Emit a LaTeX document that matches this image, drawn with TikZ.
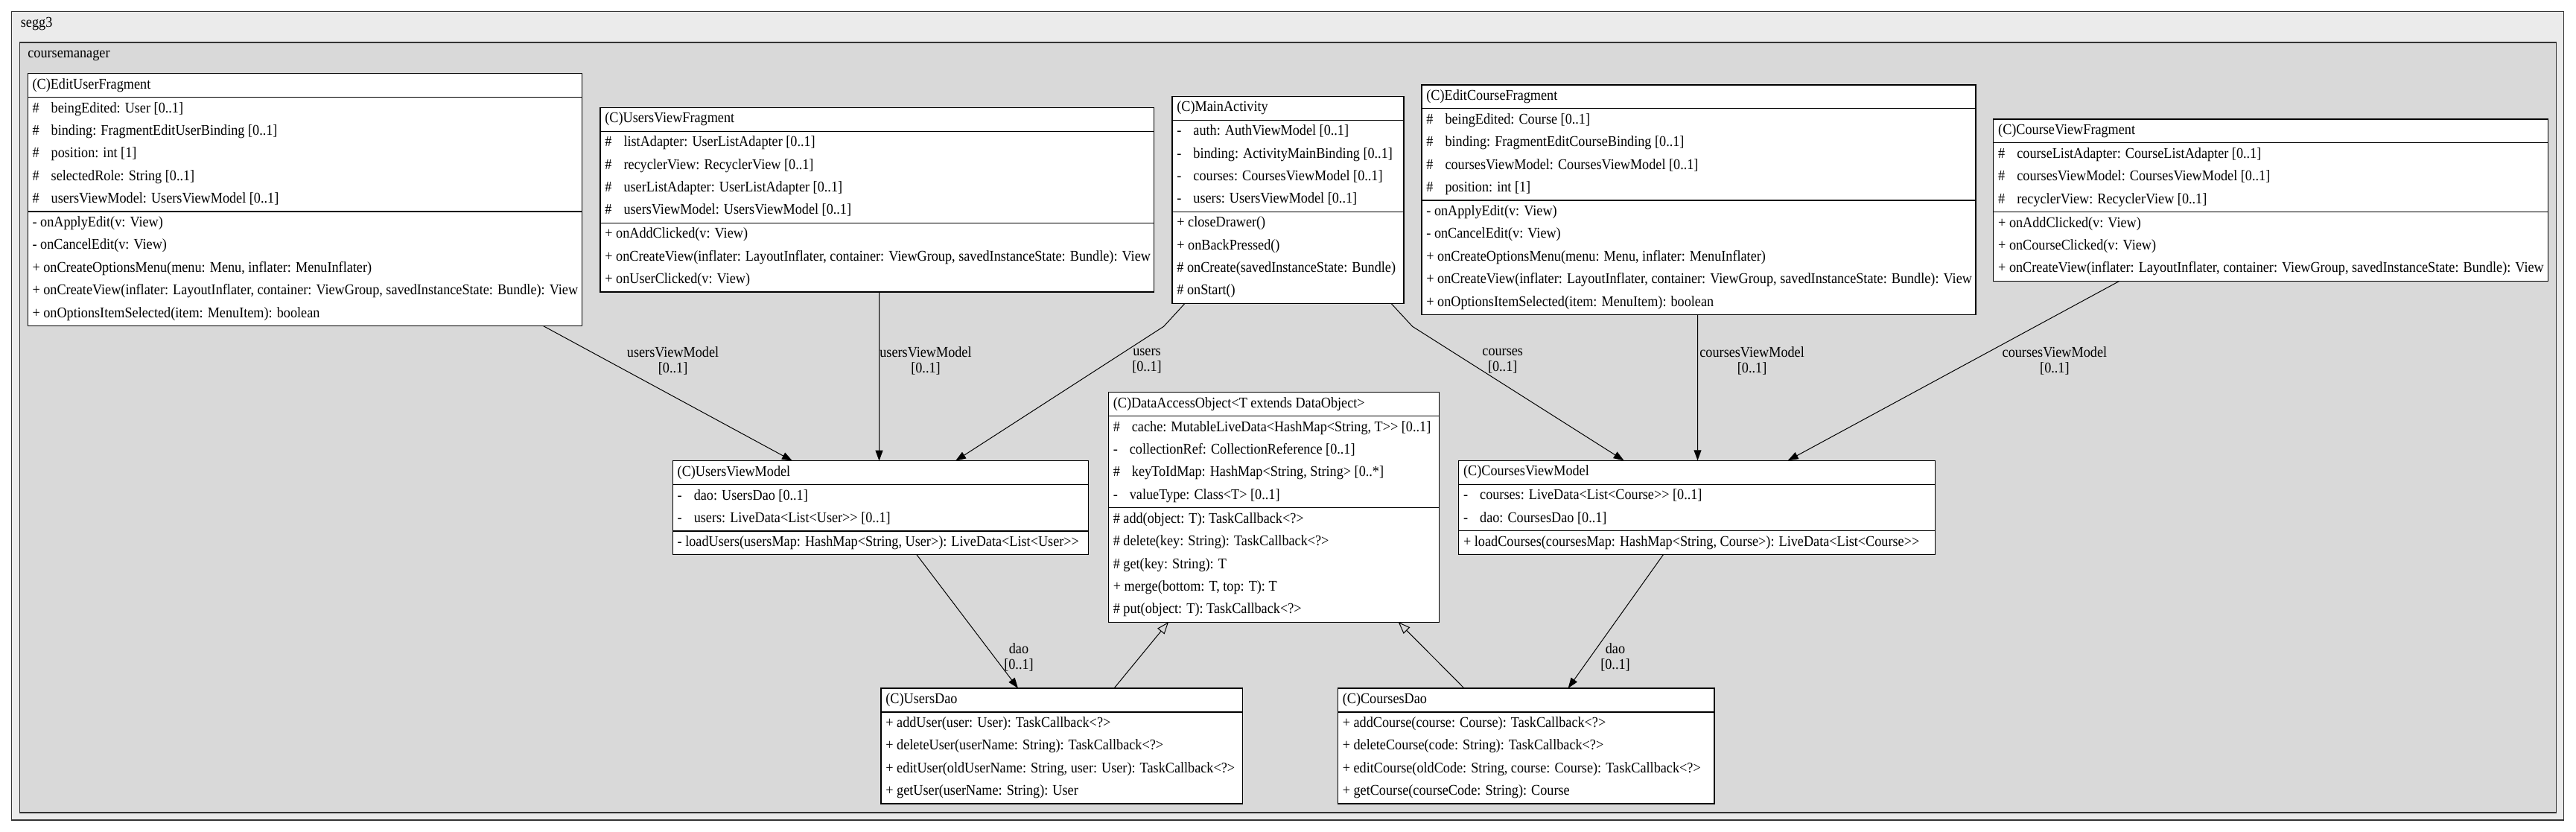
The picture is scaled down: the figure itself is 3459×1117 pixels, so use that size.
\documentclass[tikz,border=0pt]{standalone}
\usepackage{fontspec}
\setmainfont{Liberation Serif}[FakeStretch=0.91]
\usetikzlibrary{arrows.meta,calc}
\definecolor{segfill}{HTML}{EBEBEB}
\definecolor{cmfill}{HTML}{D9D9D9}
\definecolor{framecol}{HTML}{333333}
\tikzset{
  rowtext/.style={anchor=west, inner sep=0pt, font=\fontsize{10}{12}\selectfont, text height=7pt, text depth=2pt},
  classbox/.style={draw=black, fill=white, line width=0.6pt, inner sep=0pt, outer sep=0pt, anchor=north west},
  sepline/.style={draw=black, line width=0.6pt},
  assoc/.style={draw=black, line width=0.5pt, -{Triangle[length=7pt,width=5pt]}},
  gen/.style={draw=black, line width=0.5pt, -{Triangle[open,length=8pt,width=6pt]}},
  elabel/.style={align=center, inner sep=0pt, font=\fontsize{10}{10.5}\selectfont},
  frametitle/.style={anchor=west, inner sep=0pt, font=\fontsize{10}{12}\selectfont, text height=7pt, text depth=2pt},
  framebox/.style={draw=framecol, line width=0.8pt},
}
\newcommand\vis[1]{#1\hspace{8pt}}
% #1 name, #2 x, #3 y top, #4 width, #5 title, #6 n attrs, #7 attrs, #8 n methods, #9 methods
\newcommand\umlclass[9]{%
  \pgfmathsetmacro\ya{#3+31.9}%
  \pgfmathsetmacro\yb{#6>0 ? \ya+#6*30.4+1.5 : \ya}%
  \pgfmathsetmacro\yc{\yb+#8*30.4+1.5}%
  \node[classbox, minimum width=#4*0.5pt, minimum height=(\yc-#3)*0.5pt] (#1) at (#2,#3) {};
  \draw[sepline] (#2,\ya) -- ++(#4,0);
  \ifnum#6>0 \draw[sepline] (#2,\yb) -- ++(#4,0);\fi
  \node[rowtext] at ({#2+6},{#3+15.5}) {#5};
  \ifnum#6>0
    \foreach \rowtxt [count=\i from 0] in {#7} {\node[rowtext] at ({#2+6},{\ya+15.5+30.4*\i}) {\rowtxt};}
  \fi
  \foreach \rowtxt [count=\i from 0] in {#9} {\node[rowtext] at ({#2+6},{\yb+15.5+30.4*\i}) {\rowtxt};}
}
\begin{document}
\begin{tikzpicture}[x=0.5pt,y=-0.5pt]
\useasboundingbox (0,0) rectangle (3459,1117);
\fill[white] (0,0) rectangle (3459,1117);
\draw[framebox, fill=segfill] (15.5,15.5) rectangle (3442.5,1101);
\node[frametitle] (segg3) at (27.5,31.7) {segg3};
\draw[framebox, fill=cmfill] (26.5,57.3) rectangle (3432.5,1091);
\node[frametitle] (cm) at (37,72.5) {coursemanager};

\umlclass{euf}{37.2}{98.7}{744.4}{(C)EditUserFragment}{5}{%
  {\vis{\#}beingEdited: User [0..1]},
  {\vis{\#}binding: FragmentEditUserBinding [0..1]},
  {\vis{\#}position: int [1]},
  {\vis{\#}selectedRole: String [0..1]},
  {\vis{\#}usersViewModel: UsersViewModel [0..1]}}{5}{%
  {- onApplyEdit(v: View)},
  {- onCancelEdit(v: View)},
  {+ onCreateOptionsMenu(menu: Menu, inflater: MenuInflater)},
  {+ onCreateView(inflater: LayoutInflater, container: ViewGroup, savedInstanceState: Bundle): View},
  {+ onOptionsItemSelected(item: MenuItem): boolean}}

\umlclass{uvf}{806}{144.3}{743.5}{(C)UsersViewFragment}{4}{%
  {\vis{\#}listAdapter: UserListAdapter [0..1]},
  {\vis{\#}recyclerView: RecyclerView [0..1]},
  {\vis{\#}userListAdapter: UserListAdapter [0..1]},
  {\vis{\#}usersViewModel: UsersViewModel [0..1]}}{3}{%
  {+ onAddClicked(v: View)},
  {+ onCreateView(inflater: LayoutInflater, container: ViewGroup, savedInstanceState: Bundle): View},
  {+ onUserClicked(v: View)}}

\umlclass{ma}{1574}{129.3}{311}{(C)MainActivity}{4}{%
  {\vis{-}auth: AuthViewModel [0..1]},
  {\vis{-}binding: ActivityMainBinding [0..1]},
  {\vis{-}courses: CoursesViewModel [0..1]},
  {\vis{-}users: UsersViewModel [0..1]}}{4}{%
  {+ closeDrawer()},
  {+ onBackPressed()},
  {\# onCreate(savedInstanceState: Bundle)},
  {\# onStart()}}

\umlclass{ecf}{1909}{114}{744}{(C)EditCourseFragment}{4}{%
  {\vis{\#}beingEdited: Course [0..1]},
  {\vis{\#}binding: FragmentEditCourseBinding [0..1]},
  {\vis{\#}coursesViewModel: CoursesViewModel [0..1]},
  {\vis{\#}position: int [1]}}{5}{%
  {- onApplyEdit(v: View)},
  {- onCancelEdit(v: View)},
  {+ onCreateOptionsMenu(menu: Menu, inflater: MenuInflater)},
  {+ onCreateView(inflater: LayoutInflater, container: ViewGroup, savedInstanceState: Bundle): View},
  {+ onOptionsItemSelected(item: MenuItem): boolean}}

\umlclass{cvf}{2676.8}{160}{744.6}{(C)CourseViewFragment}{3}{%
  {\vis{\#}courseListAdapter: CourseListAdapter [0..1]},
  {\vis{\#}coursesViewModel: CoursesViewModel [0..1]},
  {\vis{\#}recyclerView: RecyclerView [0..1]}}{3}{%
  {+ onAddClicked(v: View)},
  {+ onCourseClicked(v: View)},
  {+ onCreateView(inflater: LayoutInflater, container: ViewGroup, savedInstanceState: Bundle): View}}

\umlclass{uvm}{903.3}{618.7}{558.4}{(C)UsersViewModel}{2}{%
  {\vis{-}dao: UsersDao [0..1]},
  {\vis{-}users: LiveData<List<User>{}> [0..1]}}{1}{%
  {- loadUsers(usersMap: HashMap<String, User>): LiveData<List<User>{}>}}

\umlclass{dao}{1488.4}{526.7}{444}{(C)DataAccessObject<T extends DataObject>}{4}{%
  {\vis{\#}cache: MutableLiveData<HashMap<String, T>{}> [0..1]},
  {\vis{-}collectionRef: CollectionReference [0..1]},
  {\vis{\#}keyToIdMap: HashMap<String, String> [0..*]},
  {\vis{-}valueType: Class<T> [0..1]}}{5}{%
  {\# add(object: T): TaskCallback<?>},
  {\# delete(key: String): TaskCallback<?>},
  {\# get(key: String): T},
  {+ merge(bottom: T, top: T): T},
  {\# put(object: T): TaskCallback<?>}}

\umlclass{cvm}{1958.7}{618.3}{639.7}{(C)CoursesViewModel}{2}{%
  {\vis{-}courses: LiveData<List<Course>{}> [0..1]},
  {\vis{-}dao: CoursesDao [0..1]}}{1}{%
  {+ loadCourses(coursesMap: HashMap<String, Course>): LiveData<List<Course>{}>}}

\umlclass{udao}{1183}{924}{485.7}{(C)UsersDao}{0}{}{4}{%
  {+ addUser(user: User): TaskCallback<?>},
  {+ deleteUser(userName: String): TaskCallback<?>},
  {+ editUser(oldUserName: String, user: User): TaskCallback<?>},
  {+ getUser(userName: String): User}}

\umlclass{cdao}{1796.4}{924}{505.6}{(C)CoursesDao}{0}{}{4}{%
  {+ addCourse(course: Course): TaskCallback<?>},
  {+ deleteCourse(code: String): TaskCallback<?>},
  {+ editCourse(oldCode: String, course: Course): TaskCallback<?>},
  {+ getCourse(courseCode: String): Course}}

% associations
\draw[assoc] ($(euf.south west)+(692.3,0)$) -- ($(uvm.north west)+(160.7,0)$);
\draw[assoc] ($(uvf.south west)+(374.5,0)$) -- ($(uvm.north west)+(277.2,0)$);
\draw[assoc] ($(ma.south west)+(17,0)$) -- ++(-28.4,30.9) -- ($(uvm.north west)+(379.7,0)$);
\draw[assoc] ($(ma.south west)+(294,0)$) -- ++(28.6,30.9) -- ($(cvm.north west)+(221.9,0)$);
\draw[assoc] ($(ecf.south west)+(370.5,0)$) -- ($(cvm.north west)+(320.8,0)$);
\draw[assoc] ($(cvf.south west)+(169.2,0)$) -- ($(cvm.north west)+(442,0)$);
\draw[assoc] ($(uvm.south west)+(327.7,0)$) -- ($(udao.north west)+(184,0)$);
\draw[assoc] ($(cvm.south west)+(274.9,0)$) -- ($(cdao.north west)+(309.2,0)$);
% generalizations
\draw[gen] ($(udao.north west)+(313,0)$) -- ($(dao.south west)+(80.6,0)$);
\draw[gen] ($(cdao.north west)+(169.6,0)$) -- ($(dao.south west)+(389.3,0)$);

% labels
\node[elabel] (l1) at (903.6,484.5) {usersViewModel\\{}[0..1]};
\node[elabel] (l2) at (1243,484.5) {usersViewModel\\{}[0..1]};
\node[elabel] (l3) at (1540,484.5) {users\\{}[0..1]};
\node[elabel] (l4) at (2017.7,484.5) {courses\\{}[0..1]};
\node[elabel] (l5) at (2352.6,484.5) {coursesViewModel\\{}[0..1]};
\node[elabel] (l6) at (2758.9,484.5) {coursesViewModel\\{}[0..1]};
\node[elabel] (l7) at (1368,882.5) {dao\\{}[0..1]};
\node[elabel] (l8) at (2169,882.5) {dao\\{}[0..1]};
\end{tikzpicture}
\end{document}
